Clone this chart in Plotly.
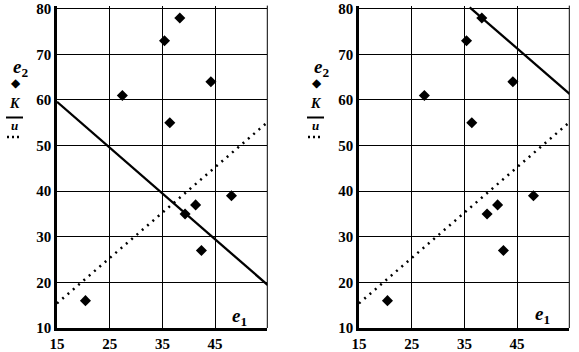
import plotly.graph_objects as go

# data
e1 = [20.4, 27.4, 35.4, 38.3, 36.4, 44.2, 39.3, 41.3, 42.4, 48.1]
e2 = [16, 61, 73, 78, 55, 64, 35, 37, 27, 39]
K_left_x = [15, 55]
K_left_y = [59.6, 19.4]
K_right_x = [36.0, 55]
K_right_y = [80.3, 61.3]
u_x = [15, 54.6]
u_y = [15.4, 54.8]
x_ticks = [15, 25, 35, 45]
y_ticks = [10, 20, 30, 40, 50, 60, 70, 80]

W, H = 579, 352
fig = go.Figure()

for xa, ya, kx, ky in [("x", "y", K_left_x, K_left_y), ("x2", "y2", K_right_x, K_right_y)]:
    fig.add_trace(go.Scatter(x=e1, y=e2, mode="markers", xaxis=xa, yaxis=ya,
                             marker=dict(symbol="diamond", size=8.5, color="black"),
                             showlegend=False, cliponaxis=True))
    fig.add_trace(go.Scatter(x=kx, y=ky, mode="lines", xaxis=xa, yaxis=ya,
                             line=dict(color="black", width=2.3), showlegend=False))
    fig.add_trace(go.Scatter(x=u_x, y=u_y, mode="lines", xaxis=xa, yaxis=ya,
                             line=dict(color="black", width=2.5, dash="2px,5px"), showlegend=False))

serif = "Liberation Serif, Times New Roman, DejaVu Serif, serif"
tickfont = dict(family=serif, size=15, color="black", weight="bold")
xcommon = dict(range=[15, 54.9], tickvals=x_ticks, showgrid=True, gridcolor="black", gridwidth=1,
               showline=True, linecolor="black", linewidth=2.5, ticks="", zeroline=False,
               tickfont=tickfont, fixedrange=True, automargin=False)
ycommon = dict(range=[10, 80.7], tickvals=y_ticks, showgrid=True, gridcolor="black", gridwidth=1,
               showline=True, linecolor="black", linewidth=2.5, ticks="", zeroline=False,
               tickfont=tickfont, fixedrange=True, automargin=False)

ydom = [(H - 328) / H, (H - 5.6) / H]
fig.update_layout(
    width=W, height=H, margin=dict(l=0, r=0, t=0, b=0, autoexpand=False),
    paper_bgcolor="white", plot_bgcolor="white",
    xaxis=dict(domain=[57 / W, 267.3 / W], anchor="y", **xcommon),
    yaxis=dict(domain=ydom, anchor="x", **ycommon),
    xaxis2=dict(domain=[359 / W, 569.3 / W], anchor="y2", **xcommon),
    yaxis2=dict(domain=ydom, anchor="x2", **ycommon),
)

# right frame lines
for xr, yr in [("x domain", "y domain"), ("x2 domain", "y2 domain")]:
    fig.add_shape(type="line", xref=xr, yref=yr, x0=1, x1=1, y0=0, y1=1,
                  line=dict(color="black", width=1))

def px(x):
    return x / W

def py(y):
    return 1 - y / H

ann = []
for off in [0, 301]:
    ann.append(dict(x=px(20 + off), y=py(68), text="<b><i>e</i></b><sub><b>2</b></sub>",
                    font=dict(family=serif, size=19, color="black")))
    ann.append(dict(x=px(16 + off), y=py(83), text="◆",
                    font=dict(family="DejaVu Sans", size=12, color="black")))
    ann.append(dict(x=px(15 + off), y=py(104), text="<b><i>K</i></b>",
                    font=dict(family=serif, size=14, color="black")))
    ann.append(dict(x=px(14 + off), y=py(126), text="<b><i>u</i></b>",
                    font=dict(family=serif, size=13, color="black")))
    # K legend sample (solid) and u legend sample (dotted)
    fig.add_shape(type="line", xref="paper", yref="paper", x0=px(6 + off), x1=px(23 + off),
                  y0=py(117.5), y1=py(117.5), line=dict(color="black", width=2))
    fig.add_shape(type="line", xref="paper", yref="paper", x0=px(7 + off), x1=px(20 + off),
                  y0=py(137), y1=py(137), line=dict(color="black", width=2.5, dash="2px,3px"))
ann.append(dict(x=px(240), y=py(317), text="<b><i>e</i></b><sub><b>1</b></sub>",
                font=dict(family=serif, size=19, color="black")))
ann.append(dict(x=px(542), y=py(315), text="<b><i>e</i></b><sub><b>1</b></sub>",
                font=dict(family=serif, size=19, color="black")))
for a in ann:
    a.update(xref="paper", yref="paper", showarrow=False, xanchor="center", yanchor="middle")
fig.update_layout(annotations=ann)

fig.write_html("out.html")
